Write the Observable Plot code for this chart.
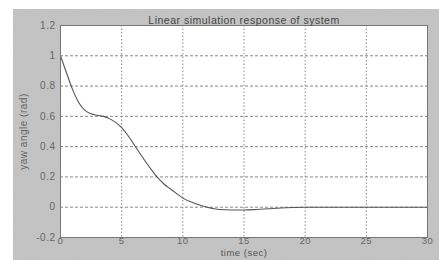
<!DOCTYPE html>
<html><head><meta charset="utf-8">
<script src="https://cdn.jsdelivr.net/npm/d3@7"></script>
<script src="https://cdn.jsdelivr.net/npm/@observablehq/plot@0.6"></script>
<style>
body{margin:0;background:#fff;}
#wrap{position:relative;width:439px;height:260px;overflow:hidden;background:#fff;}
#bg{position:absolute;left:13px;top:9px;right:0;bottom:0;background:#c6c6c6;}
#bg svg{position:absolute;left:0;top:0;}
#chart{position:absolute;left:0;top:0;}
</style></head><body>
<div id="wrap"><div id="bg"><svg width="426" height="251"><filter id="nz"><feTurbulence type="fractalNoise" baseFrequency="0.9" numOctaves="2" seed="3"/><feColorMatrix type="matrix" values="0 0 0 0 0.45  0 0 0 0 0.45  0 0 0 0 0.45  0 0 0 0.35 0"/></filter><rect width="426" height="251" filter="url(#nz)"/></svg></div><div id="chart"></div></div>
<script>
const time = [0, 0.5, 1, 1.5, 2, 2.5, 3, 3.5, 4, 4.5, 5, 5.5, 6, 6.5, 7, 7.5, 8, 8.5, 9, 9.5, 10, 11, 12, 13, 14, 15, 16, 17, 18, 19, 20, 25, 30];
const yaw = [1.0, 0.885, 0.775, 0.69, 0.64, 0.617, 0.607, 0.60, 0.585, 0.56, 0.525, 0.475, 0.415, 0.355, 0.295, 0.24, 0.19, 0.15, 0.12, 0.09, 0.06, 0.025, 0.0, -0.015, -0.018, -0.018, -0.015, -0.01, -0.005, -0.002, 0, 0, 0];
const xTicks = [0, 5, 10, 15, 20, 25, 30];
const yTicks = [-0.2, 0, 0.2, 0.4, 0.6, 0.8, 1, 1.2];
const title = "Linear simulation response of system";
const xLabel = "time (sec)";
const yLabel = "yaw angle (rad)";

const data = time.map((t, i) => ({t, y: yaw[i]}));
const plot = Plot.plot({
  width: 439, height: 260,
  marginLeft: 60, marginRight: 12, marginTop: 25, marginBottom: 23,
  style: {background: "transparent", fontFamily: "'Liberation Sans', Arial, sans-serif", fontSize: "10px", color: "#666", letterSpacing: "0.5px"},
  x: {domain: [0, 30], ticks: xTicks, label: null},
  y: {domain: [-0.2, 1.2], ticks: yTicks, tickSize: 0, tickPadding: 5, label: yLabel, labelAnchor: "center", labelOffset: 41, labelArrow: "none",
      tickFormat: d => String(+d.toFixed(1))},
  marks: [
    Plot.frame({fill: "white"}),
    Plot.ruleX(xTicks.slice(1, -1), {stroke: "#888", strokeDasharray: "1.5,2"}),
    Plot.ruleY(yTicks.slice(1, -1), {stroke: "#888", strokeDasharray: "3,2"}),
    Plot.line(data, {x: "t", y: "y", stroke: "#555", strokeWidth: 1.1, curve: "monotone-x"}),
    Plot.frame({stroke: "#777"}),
    Plot.axisX(xTicks, {tickSize: 0, tickPadding: 0, fontSize: 9.5, label: null}),
    Plot.text([title], {text: d => d, frameAnchor: "top", dy: -9, fontSize: 10.5, fill: "#444"}),
    Plot.text([xLabel], {text: d => d, frameAnchor: "bottom", dy: 18, fontSize: 9.5, fill: "#555"})
  ]
});
document.getElementById("chart").appendChild(plot);
</script>
</body></html>
